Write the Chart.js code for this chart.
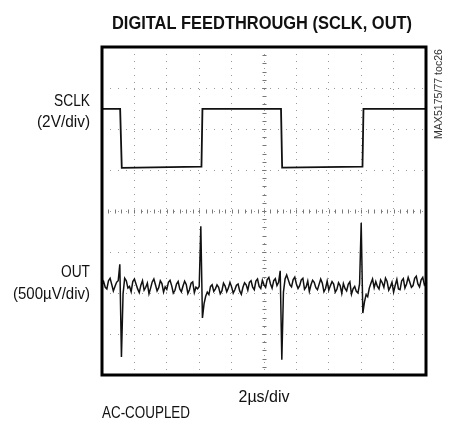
<!DOCTYPE html>
<html lang="en">
<head>
  <meta charset="UTF-8">
  <title>Digital Feedthrough (SCLK, OUT)</title>
  <style>
    body {
      margin: 0;
      padding: 0;
      background: #fff;
    }

    .wrap {
      width: 453px;
      height: 423px;
    }
  </style>
  <script src="https://cdn.jsdelivr.net/npm/chart.js"></script>
</head>
<body>
  <div class="wrap">
    <canvas id="scope" width="453" height="423"></canvas>
  </div>

  <script>
    // time base: 2us/div, 10 divisions -> 0..20 us ; vertical: 8 divisions -> -4..4 div
    const sclkTime = [0, 1.12, 1.22, 6.14, 6.2, 11.05, 11.12, 16.08, 16.14, 20];
    const sclkLevel = [2.49, 2.49, 1.05, 1.08, 2.49, 2.49, 1.06, 1.08, 2.49, 2.49];

    // OUT trace sampled every 0.1 us (divisions, offset below centre)
    const outStep = 0.1;
    const outLevel = [
      -1.80, -1.72, -1.86, -1.90, -1.70, -1.64, -1.79, -1.95, -1.84, -1.74,
      -1.70, -1.30, -3.56, -2.02, -1.64, -1.70, -1.88, -1.84, -1.97, -1.72,
      -1.66, -1.78, -1.90, -1.99, -1.81, -1.70, -1.93, -1.86, -1.76, -2.02,
      -1.88, -1.73, -1.66, -1.80, -1.95, -1.87, -1.70, -1.77, -1.98, -1.85,
      -1.91, -1.74, -1.69, -1.82, -2.00, -1.94, -1.78, -1.72, -1.90, -1.97,
      -1.83, -1.71, -1.79, -2.01, -1.92, -1.76, -1.73, -1.99, -1.86, -1.90,
      -1.84, -0.37, -2.61, -2.26, -2.08, -1.98, -2.04, -1.84, -1.80, -1.96,
      -1.90, -1.80, -1.86, -2.02, -1.95, -1.76, -1.83, -1.97, -1.88, -1.74,
      -1.85, -2.00, -1.92, -1.81, -1.78, -1.95, -2.03, -1.86, -1.75, -1.80,
      -1.93, -1.74, -1.70, -1.86, -1.92, -1.71, -1.66, -1.84, -1.89, -1.69,
      -1.80, -1.86, -1.67, -1.62, -1.78, -1.88, -1.70, -1.65, -1.82, -1.74,
      -1.46, -3.63, -1.98, -1.66, -1.56, -1.68, -1.80, -1.85, -1.67, -1.61,
      -1.78, -1.89, -1.82, -1.68, -1.64, -1.91, -1.85, -1.71, -1.96, -1.80,
      -1.69, -1.74, -1.87, -1.92, -1.79, -1.66, -1.76, -1.97, -1.89, -1.71,
      -1.93, -1.82, -1.72, -1.78, -1.98, -1.91, -1.75, -1.82, -2.01, -1.77,
      -1.89, -1.95, -1.79, -1.73, -2.03, -1.90, -1.84, -1.96, -2.00, -1.78,
      -0.29, -2.49, -2.22, -2.04, -2.09, -1.88, -1.76, -1.66, -1.87, -1.72,
      -1.84, -1.90, -1.68, -1.75, -1.86, -1.64, -1.72, -1.93, -1.85, -1.74,
      -1.98, -1.81, -1.67, -1.90, -1.92, -1.70, -1.65, -1.88, -1.78, -1.62,
      -1.74, -1.86, -1.82, -1.64, -1.59, -1.78, -1.85, -1.68, -1.62, -1.80,
      -1.74
    ];

    const FONT = "'Liberation Sans', Arial, sans-serif";

    const sclkPoints = sclkTime.map((t, i) => ({ x: t, y: sclkLevel[i] }));
    const outPoints = outLevel.map((v, i) => ({ x: +(i * outStep).toFixed(1), y: v }));

    // draw text squeezed to a target width (the original uses a narrow face)
    function narrowText(ctx, str, x, y, align, width) {
      const w = ctx.measureText(str).width;
      const k = width ? Math.min(1, width / w) : 1;
      const drawn = w * k;
      let left = x;
      if (align === "right") left = x - drawn;
      else if (align === "center") left = x - drawn / 2;
      ctx.save();
      ctx.translate(left, y);
      ctx.scale(k, 1);
      ctx.textAlign = "left";
      ctx.fillText(str, 0, 0);
      ctx.restore();
    }

    // frame, centre graticule ticks and the labels around the screen
    const scopeDecor = {
      id: "scopeDecor",
      beforeDatasetsDraw(chart) {
        const ctx = chart.ctx;
        const xs = chart.scales.x;
        const ys = chart.scales.y;
        const cx = Math.round(xs.getPixelForValue(10)) + 0.5;
        const cy = Math.round(ys.getPixelForValue(0)) + 0.5;
        ctx.save();
        ctx.strokeStyle = "#777";
        ctx.lineWidth = 1;
        ctx.beginPath();
        for (let t = 0; t <= 20; t += 0.4) {
          const px = Math.round(xs.getPixelForValue(t)) + 0.5;
          ctx.moveTo(px, cy - 2);
          ctx.lineTo(px, cy + 2);
        }
        for (let v = -4; v <= 4; v += 0.2) {
          const py = Math.round(ys.getPixelForValue(v)) + 0.5;
          ctx.moveTo(cx - 2, py);
          ctx.lineTo(cx + 2, py);
        }
        ctx.stroke();
        ctx.restore();
      },
      afterDraw(chart) {
        const ctx = chart.ctx;
        const a = chart.chartArea;
        ctx.save();
        ctx.strokeStyle = "#000";
        ctx.lineWidth = 3;
        ctx.strokeRect(a.left, a.top, a.right - a.left, a.bottom - a.top);

        ctx.fillStyle = "#111";
        ctx.textBaseline = "alphabetic";
        ctx.font = "bold 18px " + FONT;
        narrowText(ctx, "DIGITAL FEEDTHROUGH (SCLK, OUT)", 262, 29, "center", 300);

        ctx.font = "16px " + FONT;
        narrowText(ctx, "SCLK", 90, 106, "right", 36);
        narrowText(ctx, "(2V/div)", 90, 127, "right", 53);
        narrowText(ctx, "OUT", 90, 277, "right", 29);
        narrowText(ctx, "(500\u00b5V/div)", 90, 299, "right", 77);

        narrowText(ctx, "2\u00b5s/div", 264, 402, "center", 55);
        narrowText(ctx, "AC-COUPLED", 102, 418, "left", 88);

        ctx.translate(442, 49);
        ctx.rotate(-Math.PI / 2);
        ctx.font = "11px " + FONT;
        ctx.fillStyle = "#333";
        narrowText(ctx, "MAX5175/77 toc26", 0, 0, "right", 90);
        ctx.restore();
      }
    };

    new Chart(document.getElementById("scope").getContext("2d"), {
      type: "scatter",
      data: {
        datasets: [
          {
            label: "SCLK",
            data: sclkPoints,
            showLine: true,
            borderColor: "#111",
            borderWidth: 1.8,
            pointRadius: 0,
            tension: 0
          },
          {
            label: "OUT",
            data: outPoints,
            showLine: true,
            borderColor: "#111",
            borderWidth: 1.5,
            pointRadius: 0,
            tension: 0
          }
        ]
      },
      options: {
        responsive: false,
        animation: false,
        events: [],
        layout: { padding: { left: 102, top: 47, right: 27, bottom: 48 } },
        plugins: {
          legend: { display: false },
          tooltip: { enabled: false }
        },
        scales: {
          x: {
            type: "linear",
            min: 0,
            max: 20,
            ticks: { display: false, stepSize: 2 },
            grid: { color: "#999", lineWidth: 1, drawTicks: false },
            border: { display: false, dash: [1, 6] }
          },
          y: {
            min: -4,
            max: 4,
            ticks: { display: false, stepSize: 1 },
            grid: { color: "#999", lineWidth: 1, drawTicks: false },
            border: { display: false, dash: [1, 7] }
          }
        }
      },
      plugins: [scopeDecor]
    });
  </script>
</body>
</html>
